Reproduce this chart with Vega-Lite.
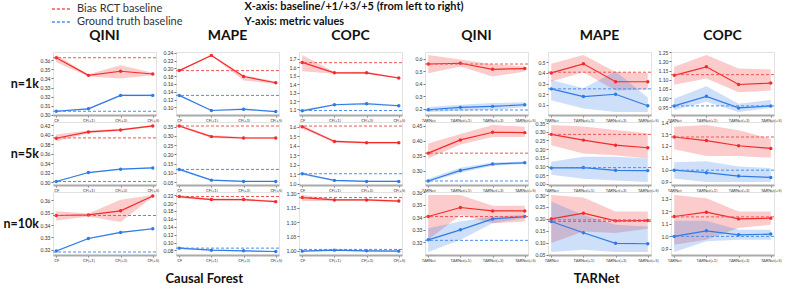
{
"$schema": "https://vega.github.io/schema/vega-lite/v6.json",
"background": "white",
"padding": {"left": 3, "top": 1, "right": 2, "bottom": 1},
"config": {
  "font": "Lato",
  "view": {"stroke": "#e2e2e2", "strokeWidth": 1},
  "axisY": {"labelFontSize": 5, "tickSize": 2, "labelPadding": 1, "domain": false, "grid": false, "tickCount": 6, "labelColor": "#333", "tickColor": "#777", "title": null},
  "axisX": {"labelFontSize": 4, "labelAngle": 0, "tickSize": 2, "labelPadding": 1, "domainColor": "#aaa", "domainWidth": 2, "grid": false, "labelColor": "#333", "tickColor": "#777", "title": null},
  "legend": {"orient": "top", "direction": "vertical", "offset": 2, "rowPadding": 0, "labelFontSize": 11, "labelColor": "#333", "symbolSize": 196, "symbolStrokeWidth": 1.5, "labelOffset": 8, "padding": 0}
},
"title": {"text": ["X-axis: baseline/+1/+3/+5 (from left to right)", "Y-axis: metric values"], "anchor": "start", "fontSize": 11, "fontWeight": "bold", "dx": 241, "dy": 28, "offset": 2, "lineHeight": 15, "font": "Lato", "color": "#111"},
"datasets": {"d": [
{"g":"CF","m":"QINI","n":"n=1k","t":"p","s":"Bias RCT","x":"CF","v":0.3626,"lo":0.3578,"hi":0.3656},
{"g":"CF","m":"QINI","n":"n=1k","t":"p","s":"Bias RCT","x":"CF(+1)","v":0.3433,"lo":0.3422,"hi":0.3444},
{"g":"CF","m":"QINI","n":"n=1k","t":"p","s":"Bias RCT","x":"CF(+3)","v":0.3478,"lo":0.3399,"hi":0.3545},
{"g":"CF","m":"QINI","n":"n=1k","t":"p","s":"Bias RCT","x":"CF(+5)","v":0.3448,"lo":0.3434,"hi":0.3462},
{"g":"CF","m":"QINI","n":"n=1k","t":"p","s":"Ground truth","x":"CF","v":0.3040,"lo":0.3032,"hi":0.3048},
{"g":"CF","m":"QINI","n":"n=1k","t":"p","s":"Ground truth","x":"CF(+1)","v":0.3067,"lo":0.3059,"hi":0.3075},
{"g":"CF","m":"QINI","n":"n=1k","t":"p","s":"Ground truth","x":"CF(+3)","v":0.3214,"lo":0.3204,"hi":0.3224},
{"g":"CF","m":"QINI","n":"n=1k","t":"p","s":"Ground truth","x":"CF(+5)","v":0.3214,"lo":0.3204,"hi":0.3224},
{"g":"CF","m":"QINI","n":"n=1k","t":"b","s":"Bias RCT baseline","v":0.3626},
{"g":"CF","m":"QINI","n":"n=1k","t":"b","s":"Ground truth baseline","v":0.3040},

{"g":"CF","m":"MAPE","n":"n=1k","t":"p","s":"Bias RCT","x":"CF","v":0.1942,"lo":0.1922,"hi":0.1962},
{"g":"CF","m":"MAPE","n":"n=1k","t":"p","s":"Bias RCT","x":"CF(+1)","v":0.2331,"lo":0.2321,"hi":0.2341},
{"g":"CF","m":"MAPE","n":"n=1k","t":"p","s":"Bias RCT","x":"CF(+3)","v":0.179,"lo":0.169,"hi":0.1824},
{"g":"CF","m":"MAPE","n":"n=1k","t":"p","s":"Bias RCT","x":"CF(+5)","v":0.163,"lo":0.160,"hi":0.1664},
{"g":"CF","m":"MAPE","n":"n=1k","t":"p","s":"Ground truth","x":"CF","v":0.1307,"lo":0.1292,"hi":0.1322},
{"g":"CF","m":"MAPE","n":"n=1k","t":"p","s":"Ground truth","x":"CF(+1)","v":0.092,"lo":0.0905,"hi":0.0935},
{"g":"CF","m":"MAPE","n":"n=1k","t":"p","s":"Ground truth","x":"CF(+3)","v":0.0952,"lo":0.092,"hi":0.0984},
{"g":"CF","m":"MAPE","n":"n=1k","t":"p","s":"Ground truth","x":"CF(+5)","v":0.0894,"lo":0.0882,"hi":0.0906},
{"g":"CF","m":"MAPE","n":"n=1k","t":"b","s":"Bias RCT baseline","v":0.1942},
{"g":"CF","m":"MAPE","n":"n=1k","t":"b","s":"Ground truth baseline","v":0.1307},

{"g":"CF","m":"COPC","n":"n=1k","t":"p","s":"Bias RCT","x":"CF","v":1.659,"lo":1.554,"hi":1.747},
{"g":"CF","m":"COPC","n":"n=1k","t":"p","s":"Bias RCT","x":"CF(+1)","v":1.535,"lo":1.525,"hi":1.545},
{"g":"CF","m":"COPC","n":"n=1k","t":"p","s":"Bias RCT","x":"CF(+3)","v":1.535,"lo":1.522,"hi":1.548},
{"g":"CF","m":"COPC","n":"n=1k","t":"p","s":"Bias RCT","x":"CF(+5)","v":1.474,"lo":1.466,"hi":1.482},
{"g":"CF","m":"COPC","n":"n=1k","t":"p","s":"Ground truth","x":"CF","v":1.084,"lo":1.07,"hi":1.10},
{"g":"CF","m":"COPC","n":"n=1k","t":"p","s":"Ground truth","x":"CF(+1)","v":1.156,"lo":1.148,"hi":1.164},
{"g":"CF","m":"COPC","n":"n=1k","t":"p","s":"Ground truth","x":"CF(+3)","v":1.168,"lo":1.152,"hi":1.184},
{"g":"CF","m":"COPC","n":"n=1k","t":"p","s":"Ground truth","x":"CF(+5)","v":1.144,"lo":1.136,"hi":1.152},
{"g":"CF","m":"COPC","n":"n=1k","t":"b","s":"Bias RCT baseline","v":1.656},
{"g":"CF","m":"COPC","n":"n=1k","t":"b","s":"Ground truth baseline","v":1.088},

{"g":"CF","m":"QINI","n":"n=5k","t":"p","s":"Bias RCT","x":"CF","v":0.3926,"lo":0.3863,"hi":0.4003},
{"g":"CF","m":"QINI","n":"n=5k","t":"p","s":"Bias RCT","x":"CF(+1)","v":0.4059,"lo":0.4029,"hi":0.4089},
{"g":"CF","m":"QINI","n":"n=5k","t":"p","s":"Bias RCT","x":"CF(+3)","v":0.4101,"lo":0.4081,"hi":0.4121},
{"g":"CF","m":"QINI","n":"n=5k","t":"p","s":"Bias RCT","x":"CF(+5)","v":0.4185,"lo":0.4165,"hi":0.4205},
{"g":"CF","m":"QINI","n":"n=5k","t":"p","s":"Ground truth","x":"CF","v":0.3015,"lo":0.3005,"hi":0.3025},
{"g":"CF","m":"QINI","n":"n=5k","t":"p","s":"Ground truth","x":"CF(+1)","v":0.3204,"lo":0.3192,"hi":0.3216},
{"g":"CF","m":"QINI","n":"n=5k","t":"p","s":"Ground truth","x":"CF(+3)","v":0.3274,"lo":0.3262,"hi":0.3286},
{"g":"CF","m":"QINI","n":"n=5k","t":"p","s":"Ground truth","x":"CF(+5)","v":0.3301,"lo":0.3289,"hi":0.3313},
{"g":"CF","m":"QINI","n":"n=5k","t":"b","s":"Bias RCT baseline","v":0.3933},
{"g":"CF","m":"QINI","n":"n=5k","t":"b","s":"Ground truth baseline","v":0.3015},

{"g":"CF","m":"MAPE","n":"n=5k","t":"p","s":"Bias RCT","x":"CF","v":0.3532,"lo":0.3478,"hi":0.3586},
{"g":"CF","m":"MAPE","n":"n=5k","t":"p","s":"Bias RCT","x":"CF(+1)","v":0.296,"lo":0.288,"hi":0.304},
{"g":"CF","m":"MAPE","n":"n=5k","t":"p","s":"Bias RCT","x":"CF(+3)","v":0.2884,"lo":0.2834,"hi":0.2934},
{"g":"CF","m":"MAPE","n":"n=5k","t":"p","s":"Bias RCT","x":"CF(+5)","v":0.2884,"lo":0.2834,"hi":0.2934},
{"g":"CF","m":"MAPE","n":"n=5k","t":"p","s":"Ground truth","x":"CF","v":0.1192,"lo":0.1138,"hi":0.1246},
{"g":"CF","m":"MAPE","n":"n=5k","t":"p","s":"Ground truth","x":"CF(+1)","v":0.0614,"lo":0.0574,"hi":0.0654},
{"g":"CF","m":"MAPE","n":"n=5k","t":"p","s":"Ground truth","x":"CF(+3)","v":0.0543,"lo":0.0513,"hi":0.0573},
{"g":"CF","m":"MAPE","n":"n=5k","t":"p","s":"Ground truth","x":"CF(+5)","v":0.0543,"lo":0.0513,"hi":0.0573},
{"g":"CF","m":"MAPE","n":"n=5k","t":"b","s":"Bias RCT baseline","v":0.3532},
{"g":"CF","m":"MAPE","n":"n=5k","t":"b","s":"Ground truth baseline","v":0.1192},

{"g":"CF","m":"COPC","n":"n=5k","t":"p","s":"Bias RCT","x":"CF","v":1.603,"lo":1.585,"hi":1.621},
{"g":"CF","m":"COPC","n":"n=5k","t":"p","s":"Bias RCT","x":"CF(+1)","v":1.448,"lo":1.435,"hi":1.461},
{"g":"CF","m":"COPC","n":"n=5k","t":"p","s":"Bias RCT","x":"CF(+3)","v":1.435,"lo":1.425,"hi":1.445},
{"g":"CF","m":"COPC","n":"n=5k","t":"p","s":"Bias RCT","x":"CF(+5)","v":1.435,"lo":1.425,"hi":1.445},
{"g":"CF","m":"COPC","n":"n=5k","t":"p","s":"Ground truth","x":"CF","v":1.108,"lo":1.095,"hi":1.121},
{"g":"CF","m":"COPC","n":"n=5k","t":"p","s":"Ground truth","x":"CF(+1)","v":1.038,"lo":1.03,"hi":1.046},
{"g":"CF","m":"COPC","n":"n=5k","t":"p","s":"Ground truth","x":"CF(+3)","v":1.027,"lo":1.021,"hi":1.033},
{"g":"CF","m":"COPC","n":"n=5k","t":"p","s":"Ground truth","x":"CF(+5)","v":1.027,"lo":1.021,"hi":1.033},
{"g":"CF","m":"COPC","n":"n=5k","t":"b","s":"Bias RCT baseline","v":1.61},
{"g":"CF","m":"COPC","n":"n=5k","t":"b","s":"Ground truth baseline","v":1.108},

{"g":"CF","m":"QINI","n":"n=10k","t":"p","s":"Bias RCT","x":"CF","v":0.3477,"lo":0.3436,"hi":0.3512},
{"g":"CF","m":"QINI","n":"n=10k","t":"p","s":"Bias RCT","x":"CF(+1)","v":0.3482,"lo":0.347,"hi":0.3494},
{"g":"CF","m":"QINI","n":"n=10k","t":"p","s":"Bias RCT","x":"CF(+3)","v":0.3515,"lo":0.3425,"hi":0.3605},
{"g":"CF","m":"QINI","n":"n=10k","t":"p","s":"Bias RCT","x":"CF(+5)","v":0.3635,"lo":0.3627,"hi":0.3643},
{"g":"CF","m":"QINI","n":"n=10k","t":"p","s":"Ground truth","x":"CF","v":0.319,"lo":0.3185,"hi":0.3195},
{"g":"CF","m":"QINI","n":"n=10k","t":"p","s":"Ground truth","x":"CF(+1)","v":0.3291,"lo":0.3285,"hi":0.3297},
{"g":"CF","m":"QINI","n":"n=10k","t":"p","s":"Ground truth","x":"CF(+3)","v":0.334,"lo":0.3334,"hi":0.3346},
{"g":"CF","m":"QINI","n":"n=10k","t":"p","s":"Ground truth","x":"CF(+5)","v":0.337,"lo":0.3364,"hi":0.3376},
{"g":"CF","m":"QINI","n":"n=10k","t":"b","s":"Bias RCT baseline","v":0.3477},
{"g":"CF","m":"QINI","n":"n=10k","t":"b","s":"Ground truth baseline","v":0.3182},

{"g":"CF","m":"MAPE","n":"n=10k","t":"p","s":"Bias RCT","x":"CF","v":0.2165,"lo":0.2126,"hi":0.2204},
{"g":"CF","m":"MAPE","n":"n=10k","t":"p","s":"Bias RCT","x":"CF(+1)","v":0.2088,"lo":0.2062,"hi":0.2114},
{"g":"CF","m":"MAPE","n":"n=10k","t":"p","s":"Bias RCT","x":"CF(+3)","v":0.2088,"lo":0.2062,"hi":0.2114},
{"g":"CF","m":"MAPE","n":"n=10k","t":"p","s":"Bias RCT","x":"CF(+5)","v":0.2036,"lo":0.201,"hi":0.2062},
{"g":"CF","m":"MAPE","n":"n=10k","t":"p","s":"Ground truth","x":"CF","v":0.0858,"lo":0.0832,"hi":0.0884},
{"g":"CF","m":"MAPE","n":"n=10k","t":"p","s":"Ground truth","x":"CF(+1)","v":0.0807,"lo":0.0794,"hi":0.082},
{"g":"CF","m":"MAPE","n":"n=10k","t":"p","s":"Ground truth","x":"CF(+3)","v":0.0789,"lo":0.0776,"hi":0.0802},
{"g":"CF","m":"MAPE","n":"n=10k","t":"p","s":"Ground truth","x":"CF(+5)","v":0.0773,"lo":0.076,"hi":0.0786},
{"g":"CF","m":"MAPE","n":"n=10k","t":"b","s":"Bias RCT baseline","v":0.2165},
{"g":"CF","m":"MAPE","n":"n=10k","t":"b","s":"Ground truth baseline","v":0.0858},

{"g":"CF","m":"COPC","n":"n=10k","t":"p","s":"Bias RCT","x":"CF","v":1.185,"lo":1.173,"hi":1.194},
{"g":"CF","m":"COPC","n":"n=10k","t":"p","s":"Bias RCT","x":"CF(+1)","v":1.177,"lo":1.1735,"hi":1.1805},
{"g":"CF","m":"COPC","n":"n=10k","t":"p","s":"Bias RCT","x":"CF(+3)","v":1.177,"lo":1.1735,"hi":1.1805},
{"g":"CF","m":"COPC","n":"n=10k","t":"p","s":"Bias RCT","x":"CF(+5)","v":1.173,"lo":1.1695,"hi":1.1765},
{"g":"CF","m":"COPC","n":"n=10k","t":"p","s":"Ground truth","x":"CF","v":0.999,"lo":0.996,"hi":1.002},
{"g":"CF","m":"COPC","n":"n=10k","t":"p","s":"Ground truth","x":"CF(+1)","v":1.0025,"lo":0.9995,"hi":1.0055},
{"g":"CF","m":"COPC","n":"n=10k","t":"p","s":"Ground truth","x":"CF(+3)","v":1.0,"lo":0.997,"hi":1.003},
{"g":"CF","m":"COPC","n":"n=10k","t":"p","s":"Ground truth","x":"CF(+5)","v":0.999,"lo":0.996,"hi":1.002},
{"g":"CF","m":"COPC","n":"n=10k","t":"b","s":"Bias RCT baseline","v":1.185},
{"g":"CF","m":"COPC","n":"n=10k","t":"b","s":"Ground truth baseline","v":1.005},

{"g":"T","m":"QINI","n":"n=1k","t":"p","s":"Bias RCT","x":"TARNet","v":0.557,"lo":0.483,"hi":0.629},
{"g":"T","m":"QINI","n":"n=1k","t":"p","s":"Bias RCT","x":"TARNet(+1)","v":0.563,"lo":0.537,"hi":0.594},
{"g":"T","m":"QINI","n":"n=1k","t":"p","s":"Bias RCT","x":"TARNet(+3)","v":0.515,"lo":0.457,"hi":0.555},
{"g":"T","m":"QINI","n":"n=1k","t":"p","s":"Bias RCT","x":"TARNet(+5)","v":0.521,"lo":0.497,"hi":0.537},
{"g":"T","m":"QINI","n":"n=1k","t":"p","s":"Ground truth","x":"TARNet","v":0.192,"lo":0.174,"hi":0.214},
{"g":"T","m":"QINI","n":"n=1k","t":"p","s":"Ground truth","x":"TARNet(+1)","v":0.211,"lo":0.184,"hi":0.232},
{"g":"T","m":"QINI","n":"n=1k","t":"p","s":"Ground truth","x":"TARNet(+3)","v":0.219,"lo":0.192,"hi":0.245},
{"g":"T","m":"QINI","n":"n=1k","t":"p","s":"Ground truth","x":"TARNet(+5)","v":0.232,"lo":0.211,"hi":0.251},
{"g":"T","m":"QINI","n":"n=1k","t":"b","s":"Bias RCT baseline","v":0.557},
{"g":"T","m":"QINI","n":"n=1k","t":"b","s":"Ground truth baseline","v":0.190},

{"g":"T","m":"MAPE","n":"n=1k","t":"p","s":"Bias RCT","x":"TARNet","v":0.4,"lo":0.3206,"hi":0.4857},
{"g":"T","m":"MAPE","n":"n=1k","t":"p","s":"Bias RCT","x":"TARNet(+1)","v":0.4857,"lo":0.4063,"hi":0.5683},
{"g":"T","m":"MAPE","n":"n=1k","t":"p","s":"Bias RCT","x":"TARNet(+3)","v":0.3171,"lo":0.2349,"hi":0.4095},
{"g":"T","m":"MAPE","n":"n=1k","t":"p","s":"Bias RCT","x":"TARNet(+5)","v":0.3171,"lo":0.2444,"hi":0.4},
{"g":"T","m":"MAPE","n":"n=1k","t":"p","s":"Ground truth","x":"TARNet","v":0.2505,"lo":0.1429,"hi":0.3333},
{"g":"T","m":"MAPE","n":"n=1k","t":"p","s":"Ground truth","x":"TARNet(+1)","v":0.1781,"lo":0.0667,"hi":0.2571},
{"g":"T","m":"MAPE","n":"n=1k","t":"p","s":"Ground truth","x":"TARNet(+3)","v":0.2,"lo":0.0333,"hi":0.4159},
{"g":"T","m":"MAPE","n":"n=1k","t":"p","s":"Ground truth","x":"TARNet(+5)","v":0.0924,"lo":0.0333,"hi":0.1686},
{"g":"T","m":"MAPE","n":"n=1k","t":"b","s":"Bias RCT baseline","v":0.4067},
{"g":"T","m":"MAPE","n":"n=1k","t":"b","s":"Ground truth baseline","v":0.2505},

{"g":"T","m":"COPC","n":"n=1k","t":"p","s":"Bias RCT","x":"TARNet","v":1.1239,"lo":1.0722,"hi":1.1706},
{"g":"T","m":"COPC","n":"n=1k","t":"p","s":"Bias RCT","x":"TARNet(+1)","v":1.1706,"lo":1.1072,"hi":1.235},
{"g":"T","m":"COPC","n":"n=1k","t":"p","s":"Bias RCT","x":"TARNet(+3)","v":1.0739,"lo":1.0317,"hi":1.1611},
{"g":"T","m":"COPC","n":"n=1k","t":"p","s":"Bias RCT","x":"TARNet(+5)","v":1.0817,"lo":1.0406,"hi":1.1556},
{"g":"T","m":"COPC","n":"n=1k","t":"p","s":"Ground truth","x":"TARNet","v":0.9572,"lo":0.935,"hi":0.9961},
{"g":"T","m":"COPC","n":"n=1k","t":"p","s":"Ground truth","x":"TARNet(+1)","v":1.0094,"lo":0.9794,"hi":1.065},
{"g":"T","m":"COPC","n":"n=1k","t":"p","s":"Ground truth","x":"TARNet(+3)","v":0.9461,"lo":0.9239,"hi":0.9683},
{"g":"T","m":"COPC","n":"n=1k","t":"p","s":"Ground truth","x":"TARNet(+5)","v":0.9572,"lo":0.9461,"hi":0.9906},
{"g":"T","m":"COPC","n":"n=1k","t":"b","s":"Bias RCT baseline","v":1.1278},
{"g":"T","m":"COPC","n":"n=1k","t":"b","s":"Ground truth baseline","v":0.9572},

{"g":"T","m":"QINI","n":"n=5k","t":"p","s":"Bias RCT","x":"TARNet","v":0.359,"lo":0.341,"hi":0.391},
{"g":"T","m":"QINI","n":"n=5k","t":"p","s":"Bias RCT","x":"TARNet(+1)","v":0.4033,"lo":0.3877,"hi":0.4233},
{"g":"T","m":"QINI","n":"n=5k","t":"p","s":"Bias RCT","x":"TARNet(+3)","v":0.429,"lo":0.4133,"hi":0.4533},
{"g":"T","m":"QINI","n":"n=5k","t":"p","s":"Bias RCT","x":"TARNet(+5)","v":0.4277,"lo":0.4133,"hi":0.4477},
{"g":"T","m":"QINI","n":"n=5k","t":"p","s":"Ground truth","x":"TARNet","v":0.2657,"lo":0.2623,"hi":0.2733},
{"g":"T","m":"QINI","n":"n=5k","t":"p","s":"Ground truth","x":"TARNet(+1)","v":0.301,"lo":0.2933,"hi":0.31},
{"g":"T","m":"QINI","n":"n=5k","t":"p","s":"Ground truth","x":"TARNet(+3)","v":0.3223,"lo":0.3167,"hi":0.3277},
{"g":"T","m":"QINI","n":"n=5k","t":"p","s":"Ground truth","x":"TARNet(+5)","v":0.3267,"lo":0.3223,"hi":0.331},
{"g":"T","m":"QINI","n":"n=5k","t":"b","s":"Bias RCT baseline","v":0.359},
{"g":"T","m":"QINI","n":"n=5k","t":"b","s":"Ground truth baseline","v":0.2657},

{"g":"T","m":"MAPE","n":"n=5k","t":"p","s":"Bias RCT","x":"TARNet","v":0.2849,"lo":0.2227,"hi":0.339},
{"g":"T","m":"MAPE","n":"n=5k","t":"p","s":"Bias RCT","x":"TARNet(+1)","v":0.2517,"lo":0.1744,"hi":0.3297},
{"g":"T","m":"MAPE","n":"n=5k","t":"p","s":"Bias RCT","x":"TARNet(+3)","v":0.2227,"lo":0.1645,"hi":0.3099},
{"g":"T","m":"MAPE","n":"n=5k","t":"p","s":"Bias RCT","x":"TARNet(+5)","v":0.2076,"lo":0.1453,"hi":0.2907},
{"g":"T","m":"MAPE","n":"n=5k","t":"p","s":"Ground truth","x":"TARNet","v":0.0913,"lo":0.0523,"hi":0.1262},
{"g":"T","m":"MAPE","n":"n=5k","t":"p","s":"Ground truth","x":"TARNet(+1)","v":0.093,"lo":0.0291,"hi":0.1552},
{"g":"T","m":"MAPE","n":"n=5k","t":"p","s":"Ground truth","x":"TARNet(+3)","v":0.0773,"lo":0.0192,"hi":0.1552},
{"g":"T","m":"MAPE","n":"n=5k","t":"p","s":"Ground truth","x":"TARNet(+5)","v":0.0756,"lo":0.0099,"hi":0.1453},
{"g":"T","m":"MAPE","n":"n=5k","t":"b","s":"Bias RCT baseline","v":0.2849},
{"g":"T","m":"MAPE","n":"n=5k","t":"b","s":"Ground truth baseline","v":0.093},

{"g":"T","m":"COPC","n":"n=5k","t":"p","s":"Bias RCT","x":"TARNet","v":1.2752,"lo":1.173,"hi":1.3625},
{"g":"T","m":"COPC","n":"n=5k","t":"p","s":"Bias RCT","x":"TARNet(+1)","v":1.2455,"lo":1.1145,"hi":1.3764},
{"g":"T","m":"COPC","n":"n=5k","t":"p","s":"Bias RCT","x":"TARNet(+3)","v":1.2018,"lo":1.1145,"hi":1.3328},
{"g":"T","m":"COPC","n":"n=5k","t":"p","s":"Bias RCT","x":"TARNet(+5)","v":1.1791,"lo":1.1006,"hi":1.2603},
{"g":"T","m":"COPC","n":"n=5k","t":"p","s":"Ground truth","x":"TARNet","v":0.9958,"lo":0.926,"hi":1.0621},
{"g":"T","m":"COPC","n":"n=5k","t":"p","s":"Ground truth","x":"TARNet(+1)","v":0.9749,"lo":0.8963,"hi":1.0709},
{"g":"T","m":"COPC","n":"n=5k","t":"p","s":"Ground truth","x":"TARNet(+3)","v":0.946,"lo":0.8963,"hi":1.0272},
{"g":"T","m":"COPC","n":"n=5k","t":"p","s":"Ground truth","x":"TARNet(+5)","v":0.9347,"lo":0.8963,"hi":1.0133},
{"g":"T","m":"COPC","n":"n=5k","t":"b","s":"Bias RCT baseline","v":1.2752},
{"g":"T","m":"COPC","n":"n=5k","t":"b","s":"Ground truth baseline","v":0.9958},

{"g":"T","m":"QINI","n":"n=10k","t":"p","s":"Bias RCT","x":"TARNet","v":0.3407,"lo":0.3221,"hi":0.3579},
{"g":"T","m":"QINI","n":"n=10k","t":"p","s":"Bias RCT","x":"TARNet(+1)","v":0.3479,"lo":0.342,"hi":0.3579},
{"g":"T","m":"QINI","n":"n=10k","t":"p","s":"Bias RCT","x":"TARNet(+3)","v":0.3452,"lo":0.3354,"hi":0.3494},
{"g":"T","m":"QINI","n":"n=10k","t":"p","s":"Bias RCT","x":"TARNet(+5)","v":0.3452,"lo":0.3367,"hi":0.3494},
{"g":"T","m":"QINI","n":"n=10k","t":"p","s":"Ground truth","x":"TARNet","v":0.3221,"lo":0.3124,"hi":0.3314},
{"g":"T","m":"QINI","n":"n=10k","t":"p","s":"Ground truth","x":"TARNet(+1)","v":0.3301,"lo":0.3221,"hi":0.3367},
{"g":"T","m":"QINI","n":"n=10k","t":"p","s":"Ground truth","x":"TARNet(+3)","v":0.3388,"lo":0.3354,"hi":0.3407},
{"g":"T","m":"QINI","n":"n=10k","t":"p","s":"Ground truth","x":"TARNet(+5)","v":0.3407,"lo":0.3394,"hi":0.342},
{"g":"T","m":"QINI","n":"n=10k","t":"b","s":"Bias RCT baseline","v":0.3407},
{"g":"T","m":"QINI","n":"n=10k","t":"b","s":"Ground truth baseline","v":0.3217},

{"g":"T","m":"MAPE","n":"n=10k","t":"p","s":"Bias RCT","x":"TARNet","v":0.2,"lo":0.0988,"hi":0.30},
{"g":"T","m":"MAPE","n":"n=10k","t":"p","s":"Bias RCT","x":"TARNet(+1)","v":0.2238,"lo":0.1475,"hi":0.2892},
{"g":"T","m":"MAPE","n":"n=10k","t":"p","s":"Bias RCT","x":"TARNet(+3)","v":0.1917,"lo":0.1404,"hi":0.2308},
{"g":"T","m":"MAPE","n":"n=10k","t":"p","s":"Bias RCT","x":"TARNet(+5)","v":0.1933,"lo":0.1583,"hi":0.2308},
{"g":"T","m":"MAPE","n":"n=10k","t":"p","s":"Ground truth","x":"TARNet","v":0.1892,"lo":0.0613,"hi":0.2725},
{"g":"T","m":"MAPE","n":"n=10k","t":"p","s":"Ground truth","x":"TARNet(+1)","v":0.1417,"lo":0.0708,"hi":0.2167},
{"g":"T","m":"MAPE","n":"n=10k","t":"p","s":"Ground truth","x":"TARNet(+3)","v":0.0975,"lo":0.0613,"hi":0.175},
{"g":"T","m":"MAPE","n":"n=10k","t":"p","s":"Ground truth","x":"TARNet(+5)","v":0.0958,"lo":0.0613,"hi":0.1683},
{"g":"T","m":"MAPE","n":"n=10k","t":"b","s":"Bias RCT baseline","v":0.1958},
{"g":"T","m":"MAPE","n":"n=10k","t":"b","s":"Ground truth baseline","v":0.1892},

{"g":"T","m":"COPC","n":"n=10k","t":"p","s":"Bias RCT","x":"TARNet","v":1.1571,"lo":0.9316,"hi":1.3286},
{"g":"T","m":"COPC","n":"n=10k","t":"p","s":"Bias RCT","x":"TARNet(+1)","v":1.1913,"lo":0.9713,"hi":1.3024},
{"g":"T","m":"COPC","n":"n=10k","t":"p","s":"Bias RCT","x":"TARNet(+3)","v":1.138,"lo":1.0642,"hi":1.1968},
{"g":"T","m":"COPC","n":"n=10k","t":"p","s":"Bias RCT","x":"TARNet(+5)","v":1.1436,"lo":1.0904,"hi":1.1968},
{"g":"T","m":"COPC","n":"n=10k","t":"p","s":"Ground truth","x":"TARNet","v":0.9983,"lo":0.8736,"hi":1.1221},
{"g":"T","m":"COPC","n":"n=10k","t":"p","s":"Ground truth","x":"TARNet(+1)","v":1.0427,"lo":0.9586,"hi":1.1221},
{"g":"T","m":"COPC","n":"n=10k","t":"p","s":"Ground truth","x":"TARNet(+3)","v":1.011,"lo":0.9713,"hi":1.0507},
{"g":"T","m":"COPC","n":"n=10k","t":"p","s":"Ground truth","x":"TARNet(+5)","v":1.0165,"lo":0.9713,"hi":1.0507},
{"g":"T","m":"COPC","n":"n=10k","t":"b","s":"Bias RCT baseline","v":1.1539},
{"g":"T","m":"COPC","n":"n=10k","t":"b","s":"Ground truth baseline","v":0.9983}
]},
"data": {"name": "d"},
"spacing": 5,
"hconcat": [
 {
  "transform": [{"filter": "datum.g=='CF'"}],
  "facet": {
    "row": {"field": "n", "type": "nominal", "sort": ["n=1k","n=5k","n=10k"], "header": {"title": null, "labelAngle": 0, "labelFontSize": 12.5, "labelFontWeight": "bold", "labelAlign": "left", "labelPadding": 14, "labelColor": "#111"}},
    "column": {"field": "m", "type": "nominal", "sort": ["QINI","MAPE","COPC"], "header": {"title": null, "labelFontSize": 14, "labelFontWeight": "bold", "labelPadding": 9, "labelColor": "#111"}}
  },
  "spacing": {"row": 7, "column": 20},
  "bounds": "flush",
  "title": {"text": "Causal Forest", "orient": "bottom", "anchor": "middle", "fontSize": 13, "fontWeight": "bold", "offset": 10, "color": "#111"},
  "resolve": {"scale": {"y": "independent"}, "axis": {"x": "independent"}},
  "spec": {
    "width": 103, "height": 63,
    "layer": [
      {"transform": [{"filter": "datum.t=='p'"}], "mark": {"type": "area", "opacity": 0.24},
       "encoding": {"x": {"field": "x", "type": "ordinal", "scale": {"type": "point", "padding": 0.1}},
                    "y": {"field": "lo", "type": "quantitative", "scale": {"zero": false, "nice": false, "padding": 3}},
                    "y2": {"field": "hi"},
                    "fill": {"field": "s", "type": "nominal", "scale": {"domain": ["Bias RCT","Ground truth"], "range": ["#f42a2a","#2f7be6"]}, "legend": null}}},
      {"transform": [{"filter": "datum.t=='p'"}], "mark": {"type": "line", "strokeWidth": 1.2},
       "encoding": {"x": {"field": "x", "type": "ordinal"},
                    "y": {"field": "v", "type": "quantitative"},
                    "stroke": {"field": "s", "type": "nominal", "scale": {"domain": ["Bias RCT","Ground truth"], "range": ["#f42a2a","#2f7be6"]},
                               "legend": {"title": null, "symbolType": "M-1.3,0H1.3M-0.36,0A0.36,0.36,0,1,1,0.36,0A0.36,0.36,0,1,1,-0.36,0Z",
                                          "encode": {"symbols": {"update": {"fill": {"signal": "datum.label=='Bias RCT' ? '#f42a2a' : '#2f7be6'"}}}}}}}},
      {"transform": [{"filter": "datum.t=='p'"}], "mark": {"type": "point", "filled": true, "size": 12, "opacity": 1, "strokeWidth": 0},
       "encoding": {"x": {"field": "x", "type": "ordinal"},
                    "y": {"field": "v", "type": "quantitative"},
                    "fill": {"field": "s", "type": "nominal", "legend": null}}},
      {"transform": [{"filter": "datum.t=='b'"}], "mark": {"type": "rule", "strokeWidth": 1, "strokeDash": [3,2]},
       "encoding": {"y": {"field": "v", "type": "quantitative"},
                    "color": {"field": "s", "type": "nominal", "scale": {"domain": ["Bias RCT baseline","Ground truth baseline"], "range": ["#f25555","#4a8ff0"]},
                              "legend": {"title": null, "symbolType": "M-1.3,0H1.3", "symbolDash": [3,2]}}}}
    ]
  }
 },
 {
  "transform": [{"filter": "datum.g=='T'"}],
  "facet": {
    "row": {"field": "n", "type": "nominal", "sort": ["n=1k","n=5k","n=10k"], "header": {"title": null, "labels": false}},
    "column": {"field": "m", "type": "nominal", "sort": ["QINI","MAPE","COPC"], "header": {"title": null, "labelFontSize": 14, "labelFontWeight": "bold", "labelPadding": 9, "labelColor": "#111"}}
  },
  "spacing": {"row": 7, "column": 20},
  "bounds": "flush",
  "title": {"text": "TARNet", "orient": "bottom", "anchor": "middle", "fontSize": 13, "fontWeight": "bold", "offset": 10, "color": "#111"},
  "resolve": {"scale": {"y": "independent"}, "axis": {"x": "independent"}},
  "spec": {
    "width": 103, "height": 63,
    "layer": [
      {"transform": [{"filter": "datum.t=='p'"}], "mark": {"type": "area", "opacity": 0.24},
       "encoding": {"x": {"field": "x", "type": "ordinal", "scale": {"type": "point", "padding": 0.1}},
                    "y": {"field": "lo", "type": "quantitative", "scale": {"zero": false, "nice": false, "padding": 3}},
                    "y2": {"field": "hi"},
                    "fill": {"field": "s", "type": "nominal", "scale": {"domain": ["Bias RCT","Ground truth"], "range": ["#f42a2a","#2f7be6"]}, "legend": null}}},
      {"transform": [{"filter": "datum.t=='p'"}], "mark": {"type": "line", "strokeWidth": 1.2},
       "encoding": {"x": {"field": "x", "type": "ordinal"},
                    "y": {"field": "v", "type": "quantitative"},
                    "stroke": {"field": "s", "type": "nominal", "scale": {"domain": ["Bias RCT","Ground truth"], "range": ["#f42a2a","#2f7be6"]},
                               "legend": {"title": null, "symbolType": "M-1.3,0H1.3M-0.36,0A0.36,0.36,0,1,1,0.36,0A0.36,0.36,0,1,1,-0.36,0Z",
                                          "encode": {"symbols": {"update": {"fill": {"signal": "datum.label=='Bias RCT' ? '#f42a2a' : '#2f7be6'"}}}}}}}},
      {"transform": [{"filter": "datum.t=='p'"}], "mark": {"type": "point", "filled": true, "size": 12, "opacity": 1, "strokeWidth": 0},
       "encoding": {"x": {"field": "x", "type": "ordinal"},
                    "y": {"field": "v", "type": "quantitative"},
                    "fill": {"field": "s", "type": "nominal", "legend": null}}},
      {"transform": [{"filter": "datum.t=='b'"}], "mark": {"type": "rule", "strokeWidth": 1, "strokeDash": [3,2]},
       "encoding": {"y": {"field": "v", "type": "quantitative"},
                    "color": {"field": "s", "type": "nominal", "scale": {"domain": ["Bias RCT baseline","Ground truth baseline"], "range": ["#f25555","#4a8ff0"]},
                              "legend": {"title": null, "symbolType": "M-1.3,0H1.3", "symbolDash": [3,2]}}}}
    ]
  }
 }
]
}
